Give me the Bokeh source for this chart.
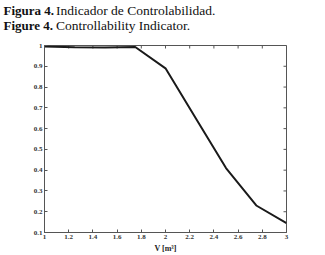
import math
from bokeh.plotting import figure
from bokeh.layouts import column, row
from bokeh.models import LinearAxis, Label, FixedTicker, Range1d
from bokeh.embed import file_html
from bokeh.resources import INLINE

volume = [1.0, 1.25, 1.5, 1.75, 2.0, 2.25, 2.5, 2.75, 3.0]
indicator = [0.995, 0.992, 0.990, 0.993, 0.89, 0.65, 0.41, 0.23, 0.145]
x_ticks = [1, 1.2, 1.4, 1.6, 1.8, 2, 2.2, 2.4, 2.6, 2.8, 3]
y_ticks = [0.1, 0.2, 0.3, 0.4, 0.5, 0.6, 0.7, 0.8, 0.9, 1]
caption_bold = ["Figura 4.", "Figure 4."]
caption_text = ["Indicador de Controlabilidad.", "Controllability Indicator."]

W = 317
HEAD_H = 38
MAIN_H = 217

# ---- caption header (its own small svg figure) ----
head = figure(width=W, height=HEAD_H, output_backend="svg", toolbar_location=None,
              x_range=Range1d(0, W), y_range=Range1d(0, HEAD_H),
              min_border=0, x_axis_location=None, y_axis_location=None)
head.grid.visible = False
head.outline_line_color = None
title_font = "Liberation Serif"
for i, ypos in enumerate([36, 21]):
    head.add_layout(Label(x=3, y=ypos, x_units="screen", y_units="screen",
                          text=caption_bold[i], text_font=title_font,
                          text_font_style="bold", text_font_size="13px",
                          text_color="#111111", text_baseline="top"))
    head.add_layout(Label(x=55.5, y=ypos, x_units="screen", y_units="screen",
                          text=caption_text[i], text_font=title_font,
                          text_font_size="13.5px", text_color="#111111",
                          text_baseline="top"))

# ---- main chart ----
p = figure(width=W, height=MAIN_H, output_backend="svg", toolbar_location=None,
           x_range=Range1d(1, 3), y_range=Range1d(0.1, 1.0),
           min_border_left=44, min_border_right=W - 286, min_border_top=7,
           min_border_bottom=21, x_axis_location=None, y_axis_location=None)
p.grid.visible = False
p.outline_line_color = "#555555"
p.background_fill_color = "white"
p.border_fill_color = "white"

tick_font = "Liberation Serif"

def style(ax):
    ax.major_tick_in = 3
    ax.major_tick_out = 0
    ax.minor_tick_in = 0
    ax.minor_tick_out = 0
    ax.axis_line_color = "#555555"
    ax.major_tick_line_color = "#555555"
    ax.major_label_text_font = tick_font
    ax.major_label_text_font_style = "bold"
    ax.major_label_text_font_size = "7px"
    ax.major_label_text_color = "#333333"
    ax.major_label_standoff = 2

xb = LinearAxis(ticker=FixedTicker(ticks=x_ticks), axis_label="V [m³]")
style(xb)
xb.axis_label_text_font = tick_font
xb.axis_label_text_font_style = "bold"
xb.axis_label_text_font_size = "8px"
xb.axis_label_text_color = "#222222"
xb.axis_label_standoff = 2
p.add_layout(xb, "below")

yl = LinearAxis(ticker=FixedTicker(ticks=y_ticks))
style(yl)
p.add_layout(yl, "left")

# mirrored inward ticks on top and right edges
p.ray(x=x_ticks, y=[1.0] * len(x_ticks), length=3, length_units="screen",
      angle=-math.pi / 2, line_color="#555555", line_width=1)
p.ray(x=[3.0] * len(y_ticks), y=y_ticks, length=3, length_units="screen",
      angle=math.pi, line_color="#555555", line_width=1)

p.line(volume, indicator, line_color="#1a1a1a", line_width=2)

layout = column(row(head), row(p), spacing=0)
open("out.html", "w").write(file_html(layout, INLINE))
